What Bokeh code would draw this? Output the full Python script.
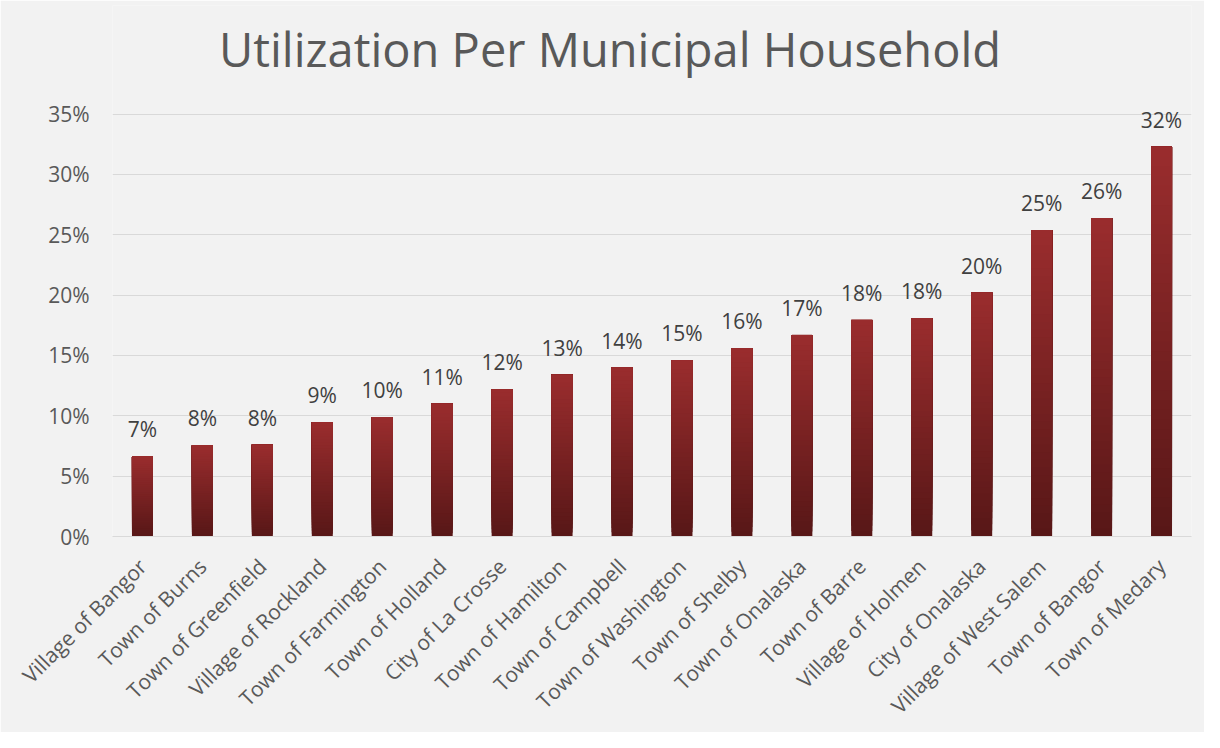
from bokeh.plotting import figure
from bokeh.models import ColumnDataSource, Range1d, NumeralTickFormatter, LabelSet, Label
from bokeh.core.properties import value
from bokeh.embed import file_html
from bokeh.resources import INLINE
import math

title_text = "Utilization Per Municipal Household"
categories = ["Village of Bangor", "Town of Burns", "Town of Greenfield", "Village of Rockland",
              "Town of Farmington", "Town of Holland", "City of La Crosse", "Town of Hamilton",
              "Town of Campbell", "Town of Washington", "Town of Shelby", "Town of Onalaska",
              "Town of Barre", "Village of Holmen", "City of Onalaska", "Village of West Salem",
              "Town of Bangor", "Town of Medary"]
values = [0.0665, 0.0755, 0.076, 0.0945, 0.099, 0.110, 0.122, 0.134, 0.140, 0.146, 0.156,
          0.167, 0.1795, 0.181, 0.202, 0.254, 0.264, 0.323]
labels = [f"{round(v * 100)}%" for v in values]
y_ticks = [0, 0.05, 0.10, 0.15, 0.20, 0.25, 0.30, 0.35]

FONT = "Open Sans"
BG = "#f2f2f2"
TOP_C = (0x9b, 0x2d, 0x2e)
BOT_C = (0x58, 0x17, 0x17)

def mix(f):
    r = [int(round(b + (t - b) * f)) for t, b in zip(TOP_C, BOT_C)]
    return "#%02x%02x%02x" % tuple(r)

# gradient bars: overlapping segments from each level up to the bar top
n = 40
seg_x, seg_top, seg_bot, seg_col = [], [], [], []
for c, v in zip(categories, values):
    for j in range(n):
        f = j / n
        seg_x.append(c)
        seg_top.append(v)
        seg_bot.append(v * f)
        seg_col.append(mix(f))
seg_src = ColumnDataSource(dict(x=seg_x, top=seg_top, bottom=seg_bot, color=seg_col))

p = figure(x_range=categories, y_range=Range1d(0, 0.44), width=1204, height=732,
           output_backend="svg", toolbar_location=None,
           min_border_left=112, min_border_right=13, min_border_top=5, min_border_bottom=193,
           background_fill_color=BG, border_fill_color=BG)
p.outline_line_color = None

# chart title, placed above the top gridline
p.add_layout(Label(x=len(categories) / 2, y=y_ticks[-1], x_offset=-42, y_offset=65,
                   text=title_text, text_align="center", text_baseline="alphabetic",
                   text_font=FONT, text_font_size="47px", text_color="#595959"))

p.vbar(x="x", top="top", bottom="bottom", width=0.35, source=seg_src,
       fill_color="color", line_color=None)

lab_src = ColumnDataSource(dict(x=categories, y=values, t=labels))
p.add_layout(LabelSet(x="x", y="y", text="t", source=lab_src, text_align="center",
                      text_baseline="alphabetic", y_offset=19, text_font=value(FONT),
                      text_font_size="21px", text_color="#404040"))

p.yaxis.formatter = NumeralTickFormatter(format="0%")
p.yaxis.ticker = y_ticks
p.yaxis.axis_line_color = None
p.yaxis.major_tick_line_color = None
p.yaxis.minor_tick_line_color = None
p.yaxis.major_label_standoff = 17
p.yaxis.major_label_text_font = FONT
p.yaxis.major_label_text_font_size = "21px"
p.yaxis.major_label_text_color = "#595959"

p.xaxis.axis_line_color = "#d9d9d9"
p.xaxis.axis_line_width = 1
p.xaxis.major_tick_line_color = None
p.xaxis.minor_tick_line_color = None
p.xaxis.major_label_orientation = math.pi / 4
p.xaxis.major_label_standoff = 20
p.xaxis.major_label_text_font = FONT
p.xaxis.major_label_text_font_size = "21px"
p.xaxis.major_label_text_color = "#595959"

p.xgrid.grid_line_color = None
p.ygrid.grid_line_color = "#d9d9d9"
p.ygrid.grid_line_width = 1

html = file_html(p, INLINE)
html = html.replace("<body>", '<body style="background:#f2f2f2">', 1)
open("out.html", "w").write(html)
